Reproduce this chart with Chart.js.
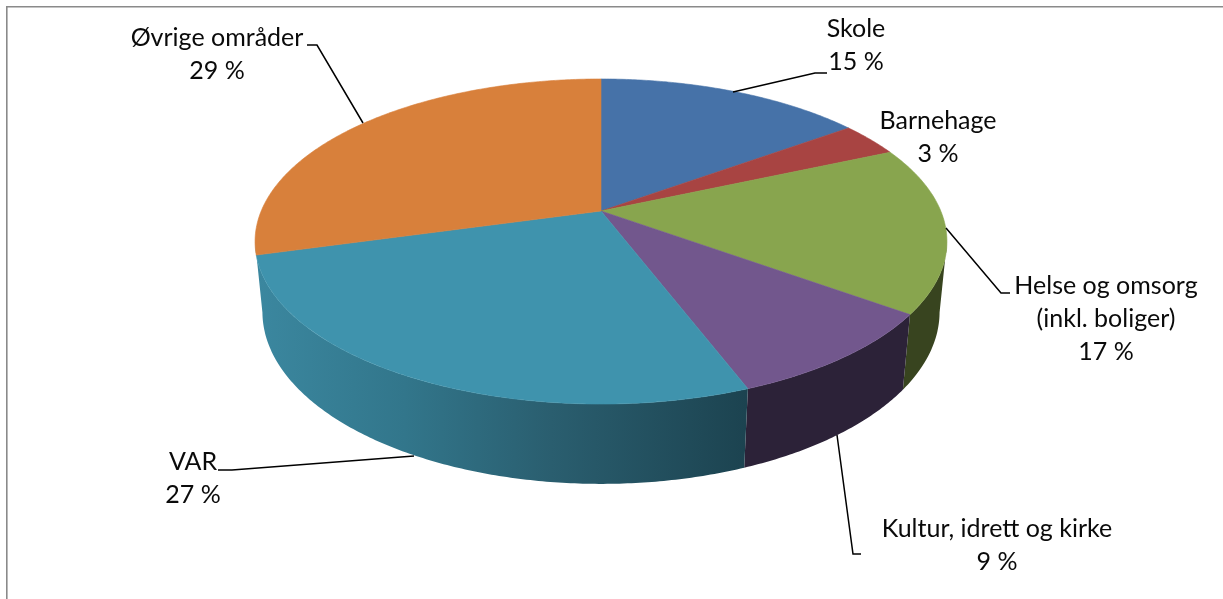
<!DOCTYPE html>
<html lang="no">
<head>
<meta charset="utf-8">
<title>Kakediagram</title>
<style>html,body{margin:0;padding:0;background:#fff;overflow:hidden}canvas{display:block}</style>
<script src="https://cdn.jsdelivr.net/npm/chart.js@4"></script>
</head>
<body>
<canvas id="c" width="1223" height="599"></canvas>
<script>
const categories = ["Skole", "Barnehage", "Helse og omsorg|(inkl. boliger)", "Kultur, idrett og kirke", "VAR", "Øvrige områder"];
const values = [15, 3.4, 16.6, 9.2, 26.5, 29.3];
const topColors = ["#4672a8", "#a84442", "#88a54e", "#72578d", "#3f93ad", "#d8803b"];
const wallColors = ["#2b4468", "#682a29", "#38441f", "#2c2238", null, "#8a5226"];

// label anchors: [centre x, first baseline y, line step]
const labelPos = [[856,37,32.5],[938,129,33],[1106,294,33],[997,537,33],[193,470,33],[217,46,33]];
// leader lines
const leaders = [
  [[733,92],[815,73],[827,73]],
  null,
  [[946,228],[1001,293],[1010,293]],
  [[837,435],[853,554],[861,554]],
  [[414,456],[232,470],[218,470]],
  [[363,123],[317,45],[307,45]]
];

const CX=601, CY=211, R=339.8, B=156.8, P=0.1877, E=0.021, H=70.6;
const top3 = a => { const u=Math.cos(a), v=Math.sin(a), w=1-P*v; return [CX+R*u/w, CY+B*v/w]; };
const bot3 = a => { const u=Math.cos(a), v=Math.sin(a), w=1-P*v+E; return [CX+R*u/w, CY+(B*v+H)/w]; };

function arcPts(fn,s,e){ const n=Math.max(4,Math.ceil((e-s)/0.01)), p=[]; for(let i=0;i<=n;i++) p.push(fn(s+(e-s)*i/n)); return p; }
function poly(ctx,pts){ ctx.beginPath(); pts.forEach((p,i)=> i?ctx.lineTo(p[0],p[1]):ctx.moveTo(p[0],p[1])); ctx.closePath(); }

const pie3d = {
  id:'pie3d',
  beforeDatasetDraw(chart,args){
    const ctx=chart.ctx, arcs=chart.getDatasetMeta(args.index).data;
    ctx.save();
    // frame
    ctx.strokeStyle='#8a8a8a'; ctx.lineWidth=1.6;
    ctx.beginPath(); ctx.moveTo(6.8,599); ctx.lineTo(6.8,6.8); ctx.lineTo(1223,6.8); ctx.stroke();

    // side wall: only the part below the rim's left and right extremes is visible
    const tangent=Math.asin(P);
    [2,3,4].forEach(i=>{
      const a=arcs[i];
      const s=Math.max(a.startAngle,tangent);
      const e=i===4?Math.max(a.endAngle,Math.PI-tangent):a.endAngle;
      let fill=wallColors[i];
      if(i===4){
        const g=ctx.createLinearGradient(258,0,747,0);
        g.addColorStop(0,'#3b879f'); g.addColorStop(0.3,'#32768b');
        g.addColorStop(0.6,'#2a5e6f'); g.addColorStop(1,'#1c4350');
        fill=g;
      }
      ctx.fillStyle=fill;
      poly(ctx,arcPts(top3,s,e).concat(arcPts(bot3,s,e).reverse())); ctx.fill();
    });

    // top faces
    arcs.forEach(a=>{
      const pts=[[CX,CY]].concat(arcPts(top3,a.startAngle,a.endAngle));
      ctx.fillStyle=a.options.backgroundColor; ctx.strokeStyle=a.options.backgroundColor; ctx.lineWidth=0.6;
      poly(ctx,pts); ctx.fill(); ctx.stroke();
    });

    // leaders
    ctx.strokeStyle='#000'; ctx.lineWidth=1.5; ctx.lineJoin='miter';
    leaders.forEach(l=>{ if(!l) return; ctx.beginPath(); l.forEach((p,i)=> i?ctx.lineTo(p[0],p[1]):ctx.moveTo(p[0],p[1])); ctx.stroke(); });

    // labels
    ctx.fillStyle='#0a0a0a'; ctx.textAlign='center'; ctx.textBaseline='alphabetic';
    ctx.font='25px Lato';
    categories.forEach((c,i)=>{
      const [x,y,st]=labelPos[i];
      const lines=c.split('|').concat([Math.round(values[i])+' %']);
      lines.forEach((t,k)=>ctx.fillText(t,x,y+k*st));
    });
    ctx.restore();
    return false;
  }
};

new Chart(document.getElementById('c'),{
  type:'pie',
  data:{labels:categories.map(c=>c.replace('|',' ')),datasets:[{data:values,backgroundColor:topColors,borderWidth:0}]},
  options:{responsive:false,animation:false,plugins:{legend:{display:false},tooltip:{enabled:false}}},
  plugins:[pie3d]
});
</script>
</body>
</html>
